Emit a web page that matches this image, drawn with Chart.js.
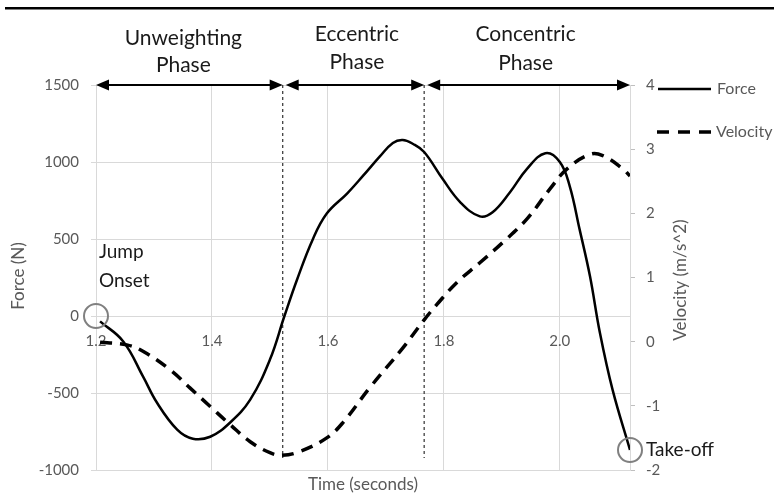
<!DOCTYPE html>
<html>
<head>
<meta charset="utf-8">
<script src="https://cdn.jsdelivr.net/npm/chart.js@4.4.1/dist/chart.umd.min.js"></script>
<style>
  html, body { margin: 0; padding: 0; background: #fff; }
  #wrap { width: 774px; height: 495px; position: relative; }
</style>
</head>
<body>
<div id="wrap"><canvas id="graficaSalto"></canvas></div>
<script>
// --- DATOS ---
const forceTime = [1.207, 1.247, 1.281, 1.305, 1.340, 1.367, 1.397, 1.431, 1.466, 1.500,
                   1.525, 1.547, 1.574, 1.598, 1.633, 1.660, 1.690, 1.712, 1.729, 1.747,
                   1.766, 1.798, 1.828, 1.862, 1.884, 1.914, 1.943, 1.975, 2.000, 2.017,
                   2.034, 2.052, 2.069, 2.091, 2.121];
const forceN = [-35, -165, -392, -562, -738, -797, -784, -693, -543, -283,
                0, 239, 499, 665, 795, 908, 1038, 1124, 1143, 1117,
                1065, 889, 740, 647, 674, 804, 954, 1057, 1000, 844,
                564, 258, -107, -480, -870];

const velTime = [1.207, 1.253, 1.281, 1.328, 1.362, 1.397, 1.431, 1.466, 1.500, 1.521,
                 1.552, 1.598, 1.626, 1.672, 1.729, 1.766, 1.788, 1.822, 1.862, 1.902,
                 1.943, 1.983, 2.012, 2.052, 2.074, 2.109, 2.121];
const velMs = [-0.01, -0.05, -0.15, -0.44, -0.72, -1.01, -1.29, -1.56, -1.73, -1.77,
               -1.71, -1.50, -1.26, -0.72, -0.10, 0.34, 0.58, 0.92, 1.23, 1.55,
               1.91, 2.38, 2.69, 2.92, 2.90, 2.69, 2.58];

const xTicks = [1.2, 1.4, 1.6, 1.8, 2.0];
const phaseEdges = [1.2, 1.522, 1.766, 2.121];
const phaseNames = [['Unweighting', 'Phase'], ['Eccentric', 'Phase'], ['Concentric', 'Phase']];

const FONT = 'Lato, "Open Sans", sans-serif';
const GRIS = '#595959';

// --- PLUGIN: fases, flechas, círculos, leyenda y títulos ---
const notas = {
    id: 'notas',
    beforeDatasetsDraw(chart) {
        const { ctx, chartArea, scales } = chart;
        ctx.save();
        ctx.strokeStyle = '#404040';
        ctx.lineWidth = 1.3;
        ctx.setLineDash([3, 3]);
        phaseEdges.slice(1, -1).forEach(t => {
            const x = scales.x.getPixelForValue(t);
            ctx.beginPath();
            ctx.moveTo(x, chartArea.top);
            ctx.lineTo(x, chartArea.bottom - 12);
            ctx.stroke();
        });
        ctx.restore();
    },
    afterDraw(chart) {
        const { ctx, chartArea, scales } = chart;
        const top = chartArea.top;
        ctx.save();

        // linea negra superior
        ctx.fillStyle = '#000';
        ctx.fillRect(5, 7, 769, 2.5);

        // flechas de fases
        const flecha = (x, dir) => {
            ctx.beginPath();
            ctx.moveTo(x, top);
            ctx.lineTo(x - dir * 13, top - 5.5);
            ctx.lineTo(x - dir * 13, top + 5.5);
            ctx.closePath();
            ctx.fill();
        };
        ctx.strokeStyle = '#000';
        ctx.lineWidth = 2;
        const labelY = [[38, 65], [34, 62], [34, 63]];
        const labelDx = [-6, 2, -3];
        for (let i = 0; i < phaseNames.length; i++) {
            let x1 = scales.x.getPixelForValue(phaseEdges[i]);
            let x2 = scales.x.getPixelForValue(phaseEdges[i + 1]);
            if (i > 0) x1 += 3;
            ctx.beginPath();
            ctx.moveTo(x1 + 4, top);
            ctx.lineTo(x2 - 4, top);
            ctx.stroke();
            flecha(x1, -1);
            flecha(x2, 1);
            ctx.fillStyle = '#1a1a1a';
            ctx.font = '21px ' + FONT;
            ctx.textAlign = 'center';
            ctx.textBaseline = 'middle';
            const cx = (x1 + x2) / 2 + labelDx[i];
            ctx.fillText(phaseNames[i][0], cx, labelY[i][0]);
            ctx.fillText(phaseNames[i][1], cx, labelY[i][1]);
            ctx.fillStyle = '#000';
        }

        // círculos de inicio y despegue
        const p0x = scales.x.getPixelForValue(1.2);
        const p0y = scales.y.getPixelForValue(0);
        const pnx = scales.x.getPixelForValue(forceTime[forceTime.length - 1]);
        const pny = scales.y.getPixelForValue(forceN[forceN.length - 1]);
        ctx.strokeStyle = '#808080';
        ctx.lineWidth = 2;
        [[p0x, p0y], [pnx, pny]].forEach(([x, y]) => {
            ctx.beginPath();
            ctx.arc(x, y, 12, 0, Math.PI * 2);
            ctx.stroke();
        });

        ctx.fillStyle = '#1a1a1a';
        ctx.font = '19px ' + FONT;
        ctx.textAlign = 'left';
        ctx.textBaseline = 'middle';
        ctx.fillText('Jump', 99, 252);
        ctx.fillText('Onset', 99, 281);
        ctx.fillText('Take-off', pnx + 16, pny);

        // leyenda
        ctx.strokeStyle = '#000';
        ctx.lineWidth = 2.5;
        ctx.beginPath();
        ctx.moveTo(658, 89);
        ctx.lineTo(711, 89);
        ctx.stroke();
        ctx.lineWidth = 3.5;
        ctx.setLineDash([12, 9]);
        ctx.beginPath();
        ctx.moveTo(657, 132);
        ctx.lineTo(712, 132);
        ctx.stroke();
        ctx.setLineDash([]);
        ctx.fillStyle = GRIS;
        ctx.font = '16px ' + FONT;
        ctx.fillText('Force', 717, 89);
        ctx.fillText('Velocity', 716, 132);

        // títulos de ejes
        ctx.font = '17px ' + FONT;
        ctx.textAlign = 'center';
        ctx.fillText('Time (seconds)', 363, 485);
        ctx.save();
        ctx.translate(19, 276);
        ctx.rotate(-Math.PI / 2);
        ctx.fillText('Force (N)', 0, 0);
        ctx.restore();
        ctx.save();
        ctx.translate(681, 280);
        ctx.rotate(-Math.PI / 2);
        ctx.fillText('Velocity (m/s^2)', 0, 0);
        ctx.restore();

        ctx.restore();
    }
};

document.addEventListener('DOMContentLoaded', function () {
    const ctx = document.getElementById('graficaSalto').getContext('2d');
    new Chart(ctx, {
        type: 'line',
        data: {
            datasets: [{
                label: 'Force',
                data: forceTime.map((t, i) => ({ x: t, y: forceN[i] })),
                yAxisID: 'y',
                borderColor: '#000',
                borderWidth: 2.5,
                pointRadius: 0,
                tension: 0.4,
                fill: false
            }, {
                label: 'Velocity',
                data: velTime.map((t, i) => ({ x: t, y: velMs[i] })),
                yAxisID: 'y2',
                borderColor: '#000',
                borderWidth: 3.5,
                borderDash: [12, 8],
                pointRadius: 0,
                tension: 0.4,
                fill: false
            }]
        },
        options: {
            responsive: true,
            maintainAspectRatio: false,
            animation: false,
            layout: { padding: { top: 85, bottom: 25, left: 0, right: 84 } },
            plugins: {
                legend: { display: false },
                tooltip: { enabled: false }
            },
            scales: {
                x: {
                    type: 'linear',
                    min: 1.2,
                    max: 2.121,
                    position: { y: 0 },
                    afterBuildTicks: s => { s.ticks = xTicks.map(v => ({ value: v })); },
                    ticks: {
                        callback: v => Number(v).toFixed(1),
                        color: GRIS,
                        font: { family: FONT, size: 15 },
                        padding: 16,
                        maxRotation: 0,
                        autoSkip: false
                    },
                    grid: { color: '#d9d9d9', drawTicks: false },
                    border: { display: false }
                },
                y: {
                    position: 'left',
                    min: -1000,
                    max: 1500,
                    ticks: {
                        stepSize: 500,
                        callback: v => String(v),
                        color: GRIS,
                        font: { family: FONT, size: 15 },
                        padding: 12
                    },
                    grid: { color: '#d9d9d9', tickLength: 5 },
                    border: { display: false },
                    afterFit: s => { s.width = 96; }
                },
                y2: {
                    position: 'right',
                    min: -2,
                    max: 4,
                    ticks: { stepSize: 1, color: GRIS, font: { family: FONT, size: 15 }, padding: 11 },
                    grid: { drawOnChartArea: false, color: '#bfbfbf', tickLength: 5 },
                    border: { color: '#d9d9d9' },
                    afterFit: s => { s.width = 60; }
                }
            }
        },
        plugins: [notas]
    });
});
</script>
</body>
</html>
